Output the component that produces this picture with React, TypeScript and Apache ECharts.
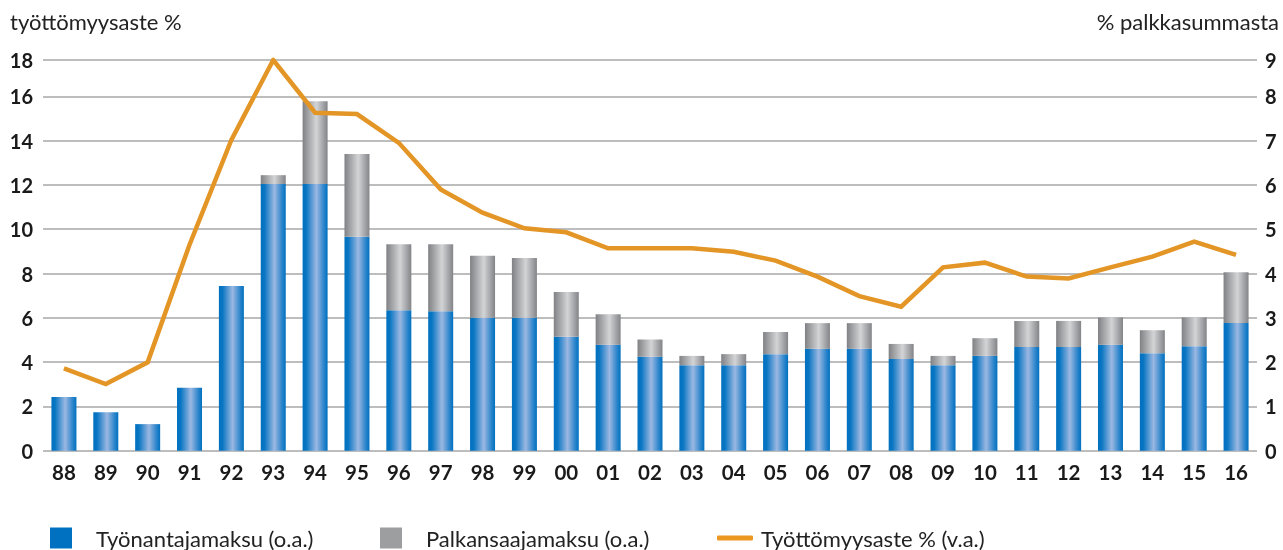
import React, { useEffect, useRef } from "react";
import * as echarts from "echarts";

const years = ["88","89","90","91","92","93","94","95","96","97","98","99","00","01","02","03","04","05","06","07","08","09","10","11","12","13","14","15","16"];
// % palkkasummasta (right axis)
const employer = [1.21,0.87,0.6,1.42,3.72,6.02,6.02,4.83,3.17,3.15,3.0,3.0,2.57,2.39,2.12,1.93,1.93,2.18,2.3,2.3,2.07,1.93,2.14,2.34,2.34,2.39,2.2,2.36,2.88];
const employee = [0,0,0,0,0,0.2,1.87,1.87,1.49,1.51,1.4,1.35,1.01,0.69,0.39,0.21,0.25,0.5,0.58,0.58,0.34,0.21,0.4,0.59,0.59,0.62,0.52,0.65,1.15];
// työttömyysaste % (left axis)
const unemployment = [3.72,3.01,3.99,9.3,14.03,17.64,15.26,15.2,13.9,11.8,10.75,10.04,9.86,9.14,9.14,9.14,8.98,8.58,7.86,6.98,6.5,8.28,8.49,7.86,7.78,8.28,8.76,9.44,8.84];

const leftTickLabels = ["0","2","4","6","8","10","12","14","16","18"];
const rightTickLabels = ["0","1","2","3","4","5","6","7","8","9"];

const seriesNames = ["Työnantajamaksu (o.a.)", "Palkansaajamaksu (o.a.)", "Työttömyysaste % (v.a.)"];
const leftAxisTitle = "työttömyysaste %";
const rightAxisTitle = "% palkkasummasta";

const FONT = "Lato, 'Open Sans', sans-serif";

export default function App() {
  const ref = useRef<HTMLDivElement>(null);
  useEffect(() => {
    if (!ref.current) return;
    const chart = echarts.init(ref.current, null, { renderer: "svg" });
    const blueGrad = new echarts.graphic.LinearGradient(0, 0, 1, 0, [
      { offset: 0, color: "#0070bf" },
      { offset: 0.15, color: "#0a76c3" },
      { offset: 0.55, color: "#9bb8e2" },
      { offset: 0.85, color: "#2c85cb" },
      { offset: 1, color: "#0070bf" },
    ]);
    const grayGrad = new echarts.graphic.LinearGradient(0, 0, 1, 0, [
      { offset: 0, color: "#808184" },
      { offset: 0.55, color: "#d3d4d6" },
      { offset: 1, color: "#838488" },
    ]);
    const legendText = { fontFamily: FONT, fontSize: 22, color: "#222" };
    chart.setOption({
      animation: false,
      textStyle: { fontFamily: FONT },
      grid: { left: 43, right: 26, top: 60, bottom: 99.3, containLabel: false },
      graphic: [
        { type: "text", x: 10, y: 21, style: { text: leftAxisTitle, font: `22px ${FONT}`, fill: "#222", textAlign: "left", textVerticalAlign: "middle" } },
        { type: "text", x: 1279, y: 21, style: { text: rightAxisTitle, font: `22px ${FONT}`, fill: "#222", textAlign: "right", textVerticalAlign: "middle" } },
      ],
      legend: [
        {
          data: [{ name: seriesNames[0], itemStyle: { color: "#0070c0" } }],
          left: 50, top: 527, padding: 0, itemWidth: 22, itemHeight: 21, icon: "rect",
          textStyle: { ...legendText, padding: [0, 0, 0, 19] },
        },
        {
          data: [{ name: seriesNames[1], itemStyle: { color: "#9d9ea0" } }],
          left: 380, top: 527, padding: 0, itemWidth: 22, itemHeight: 21, icon: "rect",
          textStyle: { ...legendText, padding: [0, 0, 0, 19] },
        },
        {
          data: [{ name: seriesNames[2], icon: "roundRect", itemStyle: { color: "#ec9722" }, lineStyle: { opacity: 0 } }],
          left: 717, top: 527, padding: 0, itemWidth: 36, itemHeight: 5,
          textStyle: { ...legendText, padding: [0, 0, 0, 3] },
        },
      ],
      xAxis: {
        type: "category",
        data: years,
        axisLine: { show: false },
        axisTick: { show: false },
        axisLabel: { fontFamily: FONT, fontSize: 20.5, fontWeight: "bold", color: "#1a1a1a", margin: 11 },
      },
      yAxis: [
        {
          type: "value",
          min: 0,
          max: 17.64,
          interval: 2,
          axisLine: { show: false },
          axisTick: { show: false },
          splitLine: { lineStyle: { color: "#bdbdbd", width: 2 } },
          axisLabel: {
            fontFamily: FONT, fontSize: 20, fontWeight: "bold", color: "#1a1a1a", margin: 10,
            formatter: (_v: number, i: number) => leftTickLabels[i],
          },
        },
        {
          type: "value",
          min: 0,
          max: 8.82,
          interval: 1,
          axisLine: { show: false },
          axisTick: { show: false },
          splitLine: { show: false },
          axisLabel: {
            fontFamily: FONT, fontSize: 20, fontWeight: "bold", color: "#1a1a1a", margin: 8,
            formatter: (_v: number, i: number) => rightTickLabels[i],
          },
        },
      ],
      series: [
        {
          name: seriesNames[0], type: "bar", stack: "maksu", yAxisIndex: 1, barWidth: 25,
          data: employer, itemStyle: { color: blueGrad },
        },
        {
          name: seriesNames[1], type: "bar", stack: "maksu", yAxisIndex: 1, barWidth: 25,
          data: employee, itemStyle: { color: grayGrad },
        },
        {
          name: seriesNames[2], type: "line", yAxisIndex: 0, data: unemployment,
          showSymbol: false, symbol: "none",
          lineStyle: { color: "#e39526", width: 4.5, join: "miter" },
          itemStyle: { color: "#e39526" },
          z: 5,
        },
      ],
    });
    return () => chart.dispose();
  }, []);
  return (
    <div
      ref={ref}
      style={{ position: "fixed", left: 0, top: 0, width: 1283, height: 550 }}
    />
  );
}
